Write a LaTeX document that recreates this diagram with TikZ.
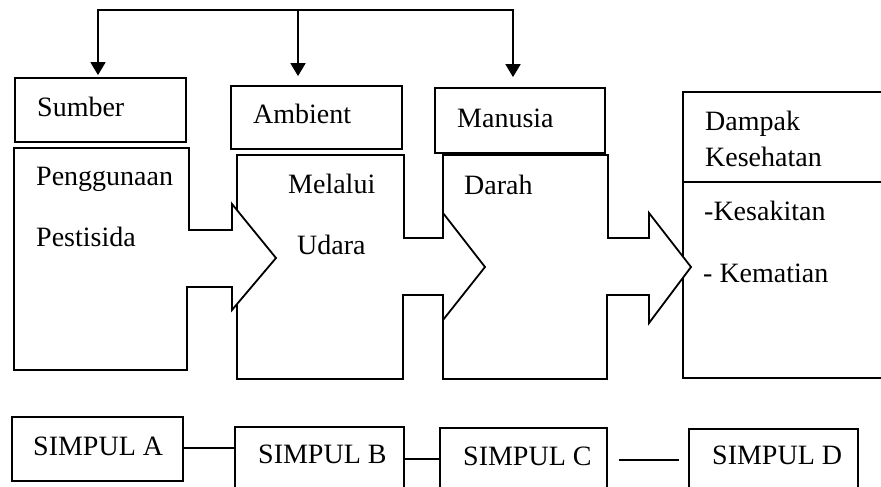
\documentclass[tikz,border=0pt]{standalone}
\usepackage{fontspec}
\setmainfont{Liberation Serif}
\usetikzlibrary{arrows.meta}
\begin{document}
\begin{tikzpicture}[x=1pt,y=-1pt,
  flowshape/.style={draw=black, line width=1.8pt, fill=white, line join=miter},
  box/.style={draw=black, line width=1.8pt, fill=white, inner sep=0pt},
  txt/.style={anchor=base west, inner sep=0pt, font=\fontsize{28}{33}\selectfont},
  conn/.style={draw=black, line width=1.8pt},
  tipend/.style={-{Triangle[width=15pt,length=13pt]}},
  tipboth/.style={{Triangle[width=15pt,length=13pt]}-{Triangle[width=15pt,length=13pt]}}
]
\clip (0,0) rectangle (881,487);
\fill[white] (0,0) rectangle (881,487);

% top boxes
\node[box, minimum width=171pt, minimum height=64pt] (sumber) at (100.5,110) {};
\node[box, minimum width=171pt, minimum height=63pt] (ambient) at (316.5,117.5) {};
\node[box, minimum width=170pt, minimum height=65pt] (manusia) at (520,120.5) {};

% top bracket connector
\coordinate (hA) at (98,10);
\coordinate (hB) at (298,10);
\coordinate (hC) at (513,10);
\draw[conn, tipboth, shorten <=10pt, shorten >=2pt]
  (hC |- manusia.north) -- (hC) -- (hA) -- (hA |- sumber.north);
\draw[conn, tipend, shorten >=9pt] (hB) -- (hB |- ambient.north);

% block arrows, drawn right to left
\draw[flowshape] (683,92) rectangle (900,378);
\draw[line width=1.8pt] (683,182) -- (900,182);

\draw[flowshape] (443,155) -- (608,155) -- (608,238) -- (649,238) -- (649,213)
  -- (691,267) -- (649,323) -- (649,295) -- (607,295) -- (607,379) -- (443,379) -- cycle;

\draw[flowshape] (237,155) -- (404,155) -- (404,238) -- (443,238) -- (443,213)
  -- (485,267) -- (443,320) -- (443,295) -- (403,295) -- (403,379) -- (237,379) -- cycle;

\draw[flowshape] (14,148) -- (189,148) -- (189,230) -- (232,230) -- (232,204)
  -- (276,258) -- (232,310) -- (232,287) -- (187,287) -- (187,370) -- (14,370) -- cycle;

% texts
\node[txt] (tSumber) at (37,117) {Sumber};
\node[txt] (tAmbient) at (253,123) {Ambient};
\node[txt] (tManusia) at (457,127) {Manusia};
\node[txt] (tPeng) at (36,185) {Penggunaan};
\node[txt] (tPest) at (36,246) {Pestisida};
\node[txt] (tMel) at (288,193) {Melalui};
\node[txt] (tUda) at (297,254) {Udara};
\node[txt] (tDar) at (464,194) {Darah};
\node[txt] (tDam) at (705,130) {Dampak};
\node[txt] (tKes) at (705,166) {Kesehatan};
\node[txt] (tSak) at (704,220) {-Kesakitan};
\node[txt] (tMat) at (703,282) {- Kematian};

% bottom row
\node[box, minimum width=171pt, minimum height=64pt] (simA) at (97.5,449) {};
\node[box, minimum width=169pt, minimum height=73pt] (simB) at (319.5,463.5) {};
\node[box, minimum width=167pt, minimum height=72pt] (simC) at (523.5,464) {};
\node[box, minimum width=169pt, minimum height=71pt] (simD) at (773.5,464.5) {};
\node[txt] (tA) at (33,455) {SIMPUL A};
\node[txt] (tB) at (258,463) {SIMPUL B};
\node[txt] (tC) at (463,465) {SIMPUL C};
\node[txt] (tD) at (712,464) {SIMPUL D};

\coordinate (ab) at (0,448);
\coordinate (bc) at (0,459);
\coordinate (cd) at (0,460);
\draw[conn, line width=1.5pt] (simA.east |- ab) -- (simB.west |- ab);
\draw[conn, line width=1.5pt] (simB.east |- bc) -- (simC.west |- bc);
\draw[conn, line width=1.5pt, shorten <=11pt, shorten >=9pt] (simC.east |- cd) -- (simD.west |- cd);
\end{tikzpicture}
\end{document}
